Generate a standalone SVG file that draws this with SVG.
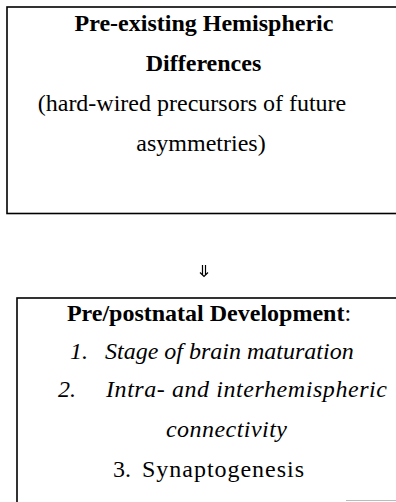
<svg xmlns="http://www.w3.org/2000/svg" width="396" height="502" viewBox="0 0 396 502">
<style>
.box{fill:none;stroke:#000;stroke-width:1.6}
text{font-family:'Liberation Serif','Times New Roman',Times,'DejaVu Serif',serif;font-size:24px;fill:#000}
.b{font-weight:bold}
.i{font-style:italic}
.c{text-anchor:middle}
.arr{fill:none;stroke:#000;stroke-width:1.2}
</style>
<rect width="396" height="502" fill="#fff"/>
<g id="node-preexisting">
<rect class="box" x="7" y="7" width="400" height="206.5"/>
<text class="b c" x="204" y="31">Pre-existing Hemispheric</text>
<text class="b c" x="203.5" y="71">Differences</text>
<text class="c" x="192" y="111">(hard-wired precursors of future</text>
<text class="c" x="201" y="151">asymmetries)</text>
</g>
<g id="connectors">
<path class="arr" d="M202.5 265V275M205.5 265V275M200 272.5L204 276.5L208 272.5"/>
</g>
<g id="node-development">
<rect class="box" x="17" y="298" width="400" height="220"/>
<line x1="346" y1="500.5" x2="396" y2="500.5" stroke="#bbb" stroke-width="1"/>
<text class="c" x="209" y="321"><tspan class="b">Pre/postnatal Development</tspan>:</text>
<text class="i" y="359"><tspan x="70">1.</tspan><tspan x="105">Stage of brain maturation</tspan></text>
<text class="i" y="397"><tspan x="58">2.</tspan><tspan x="106" textLength="281" lengthAdjust="spacing">Intra- and interhemispheric</tspan></text>
<text class="i" x="166" y="437" textLength="121" lengthAdjust="spacing">connectivity</text>
<text y="477"><tspan x="113">3.</tspan><tspan x="142" textLength="162" lengthAdjust="spacing">Synaptogenesis</tspan></text>
</g>
</svg>
